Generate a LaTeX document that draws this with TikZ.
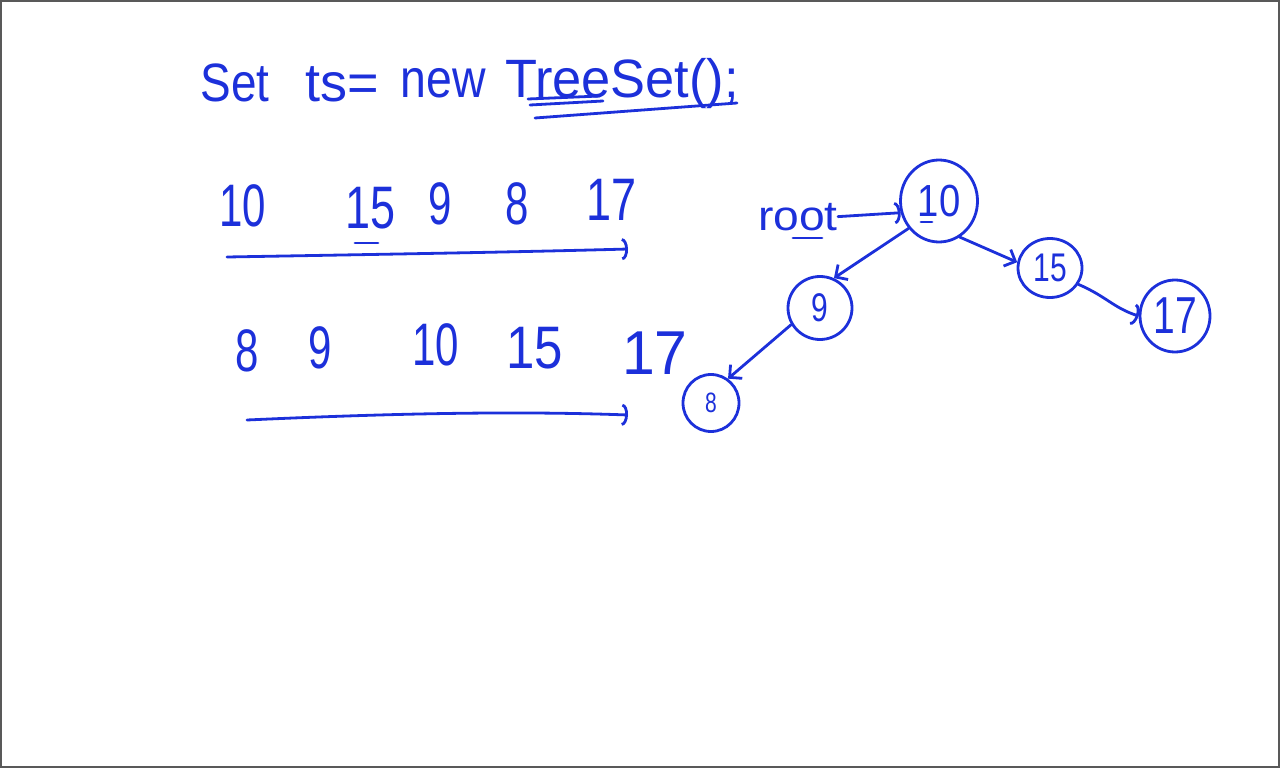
\documentclass[tikz,border=0pt]{standalone}
\usepackage{fontspec}
\setmainfont{Liberation Sans}
\usetikzlibrary{shapes.geometric,arrows.meta}
\definecolor{ink}{RGB}{28,48,218}
\newcommand\hw[3]{\fontsize{#1}{#1}\selectfont\scalebox{#2}[1]{#3}}
\begin{document}
\begin{tikzpicture}[x=1pt,y=-1pt,
  pen/.style={draw=ink,line width=2.8pt,line cap=round,line join=round},
  word/.style={text=ink,inner sep=0pt,anchor=base},
  tnode/.style={ellipse,pen,text=ink,inner sep=0pt},
  arctip/.style={-{Arc Barb[width=22pt,length=6pt]}},
  barbtip/.style={-{Straight Barb[length=9pt,width=18pt]}},
]
\useasboundingbox (0,0) rectangle (1280,768);
\draw[gray!70!black,line width=2pt] (1,1) rectangle (1279,767);

% title
\node[word] (t1) at (235,101) {\hw{54}{0.85}{Set}};
\node[word] (t2) at (342,101) {\hw{54}{1}{ts=}};
\node[word] (t3) at (443,97) {\hw{54}{0.86}{new}};
\node[word] (t4) at (622,97) {\hw{54}{0.97}{TreeSet();}};
\coordinate (u1a) at (528,99); \coordinate (u1b) at (600,96);
\coordinate (u2a) at (530,105); \coordinate (u2b) at (603,101);
\coordinate (u3a) at (535,118); \coordinate (u3b) at (737,103);
\draw[pen] (u1a) -- (u1b);
\draw[pen] (u2a) -- (u2b);
\draw[pen] (u3a) -- (u3b);

% row 1
\node[word] (a1) at (243,226) {\hw{60}{0.7}{10}};
\node[word] (a2) at (371,228) {\hw{60}{0.75}{15}};
\node[word] (a3) at (440,224) {\hw{60}{0.7}{9}};
\node[word] (a4) at (517,224) {\hw{60}{0.7}{8}};
\node[word] (a5) at (612,220) {\hw{60}{0.75}{17}};
\coordinate (ua) at (355,243); \coordinate (ub) at (378,243);
\draw[pen] (ua) -- (ub);
\coordinate (l1a) at (227,257); \coordinate (l1b) at (628,249);
\draw[pen,arctip] (l1a) .. controls (400,254) and (520,252) .. (l1b);

% row 2
\node[word] (b1) at (247,371) {\hw{60}{0.7}{8}};
\node[word] (b2) at (320,368) {\hw{60}{0.7}{9}};
\node[word] (b3) at (436,365) {\hw{60}{0.7}{10}};
\node[word] (b4) at (535,368) {\hw{60}{0.85}{15}};
\node[word] (b5) at (655,374) {\hw{62}{0.95}{17}};
\coordinate (l2a) at (247,420); \coordinate (l2b) at (628,415);
\draw[pen,arctip] (l2a) .. controls (400,413) and (520,411) .. (l2b);

% tree
\node[tnode,minimum width=77pt,minimum height=82pt] (n10) at (939,201) {\hw{45}{0.85}{10}};
\node[tnode,minimum width=64pt,minimum height=63pt] (n9) at (820,308) {\hw{40}{0.75}{9}};
\node[tnode,minimum width=56pt,minimum height=57pt] (n8) at (711,403) {\hw{28}{0.75}{8}};
\node[tnode,minimum width=64pt,minimum height=59pt] (n15) at (1050,268) {\hw{40}{0.75}{15}};
\node[tnode,minimum width=70pt,minimum height=72pt] (n17) at (1175,316) {\hw{52}{0.75}{17}};
\coordinate (nu1) at (921,222); \coordinate (nu2) at (932,222);
\draw[pen] (nu1) -- (nu2);

\node[word] (root) at (798,230) {\hw{42}{1.1}{root}};
\coordinate (ru1) at (793,238); \coordinate (ru2) at (822,238);
\draw[pen] (ru1) -- (ru2);
\draw[pen,arctip] (root.east) -- (n10.197);

\draw[pen,barbtip] (n10.222) -- (n9.65);
\draw[pen,barbtip] (n10.300) -- (n15.170);
\draw[pen,barbtip] (n9.210) -- (n8.55);
\draw[pen,arctip] (n15.-30) .. controls +(28,12) and +(-25,-8) .. (n17.180);
\end{tikzpicture}
\end{document}
